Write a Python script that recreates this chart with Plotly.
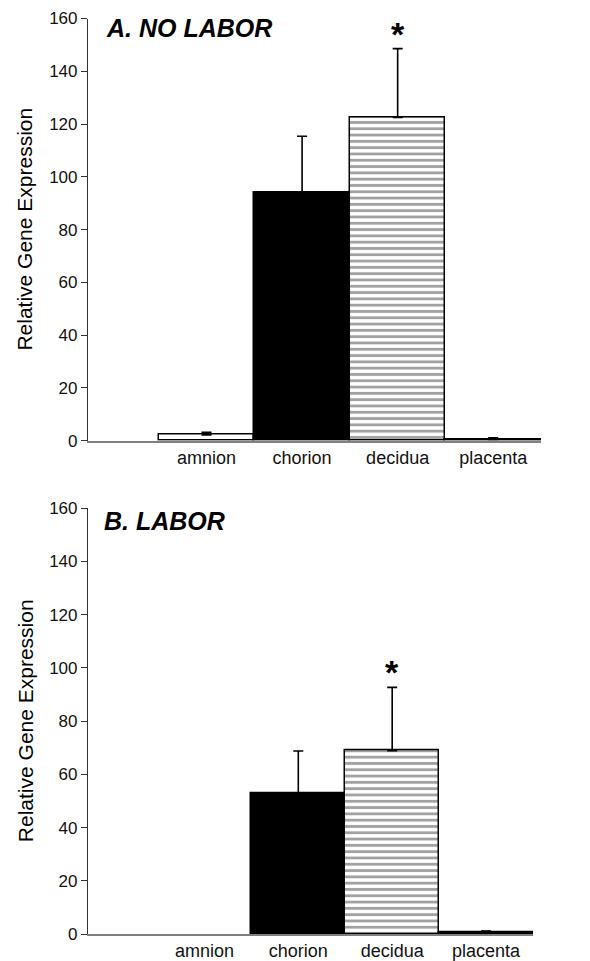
import plotly.graph_objects as go

categories = ["amnion", "chorion", "decidua", "placenta"]
positions = [1, 2, 3, 4]

# Panel A: No labor
no_labor_values = [2.2, 94.2, 122.5, 0.5]
no_labor_errors = [1.0, 21.2, 26.1, 0.6]

# Panel B: Labor (amnion not detectable -> no bar)
labor_values = [None, 52.9, 68.9, 0.5]
labor_errors = [None, 15.9, 23.8, 0.6]

y_ticks = [0, 20, 40, 60, 80, 100, 120, 140, 160]

W, H = 590, 961
OFF = 8  # page body margin offset
FONT = "Liberation Sans, Arial, sans-serif"

fill_colors = ["white", "black", "white", "black"]
patterns = ["", "", "-", ""]


def px_x(x):
    return (x - OFF) / W


def px_y(y):
    return 1 - (y - OFF) / H


def add_panel(fig, values, errors, xa, ya):
    pts = [i for i, v in enumerate(values) if v is not None]
    fig.add_trace(go.Bar(
        x=[positions[i] for i in pts], y=[values[i] for i in pts], width=1.0,
        marker=dict(
            color=[fill_colors[i] for i in pts],
            line=dict(color="black", width=1.5),
            pattern=dict(shape=[patterns[i] for i in pts], fgcolor="black",
                         bgcolor="white", size=6.3, solidity=0.45),
        ),
        error_y=dict(type="data", array=[errors[i] for i in pts],
                     arrayminus=[0] * len(pts), symmetric=False,
                     color="black", thickness=1.6, width=5),
        xaxis=xa, yaxis=ya, showlegend=False, cliponaxis=False,
    ))


fig = go.Figure()
add_panel(fig, no_labor_values, no_labor_errors, "x", "y")
add_panel(fig, labor_values, labor_errors, "x2", "y2")

top_dom = [px_y(440.7), px_y(18.5)]
bot_dom = [px_y(934), px_y(508.3)]

xcommon = dict(tickvals=positions, ticktext=categories, range=[-0.24, 4.5],
               showline=True, linecolor="#808080", linewidth=1.5, ticks="",
               showgrid=False, zeroline=False, automargin=False,
               tickfont=dict(family=FONT, size=18, color="#111"))
ycommon = dict(range=[0, 160], tickvals=y_ticks, showline=True,
               linecolor="#333", linewidth=1.2, ticks="outside", ticklen=6,
               tickcolor="#333", showgrid=False, zeroline=False, automargin=False,
               tickfont=dict(family=FONT, size=17, color="#111"))

fig.update_layout(
    width=W, height=H,
    margin=dict(l=0, r=0, t=0, b=0),
    paper_bgcolor="white", plot_bgcolor="white",
    bargap=0,
    xaxis=dict(domain=[px_x(88), px_x(541)], anchor="y", **xcommon),
    yaxis=dict(domain=top_dom, anchor="x", **ycommon),
    xaxis2=dict(domain=[px_x(88), px_x(533)], anchor="y2", **xcommon),
    yaxis2=dict(domain=bot_dom, anchor="x2", **ycommon),
)

annots = [
    dict(text="<b><i>A. NO LABOR</i></b>", x=px_x(104), y=px_y(28),
         xanchor="left", yanchor="middle", font=dict(size=25)),
    dict(text="<b><i>B. LABOR</i></b>", x=px_x(102), y=px_y(521),
         xanchor="left", yanchor="middle", font=dict(size=25)),
    dict(text="Relative Gene Expression", x=px_x(25), y=sum(top_dom) / 2,
         textangle=-90, xanchor="center", yanchor="middle", font=dict(size=21)),
    dict(text="Relative Gene Expression", x=px_x(25), y=sum(bot_dom) / 2,
         textangle=-90, xanchor="center", yanchor="middle", font=dict(size=21)),
]
for a in annots:
    a.update(xref="paper", yref="paper", showarrow=False)
    a["font"].update(family=FONT, color="black")
    fig.add_annotation(**a)

# significance stars above decidua
fig.add_annotation(text="<b>*</b>", x=3, y=no_labor_values[2] + no_labor_errors[2],
                   xref="x", yref="y", showarrow=False, yanchor="bottom", yshift=-6,
                   font=dict(family=FONT, size=34, color="black"))
fig.add_annotation(text="<b>*</b>", x=3, y=labor_values[2] + labor_errors[2],
                   xref="x2", yref="y2", showarrow=False, yanchor="bottom", yshift=-6,
                   font=dict(family=FONT, size=34, color="black"))

fig.write_html("out.html")
